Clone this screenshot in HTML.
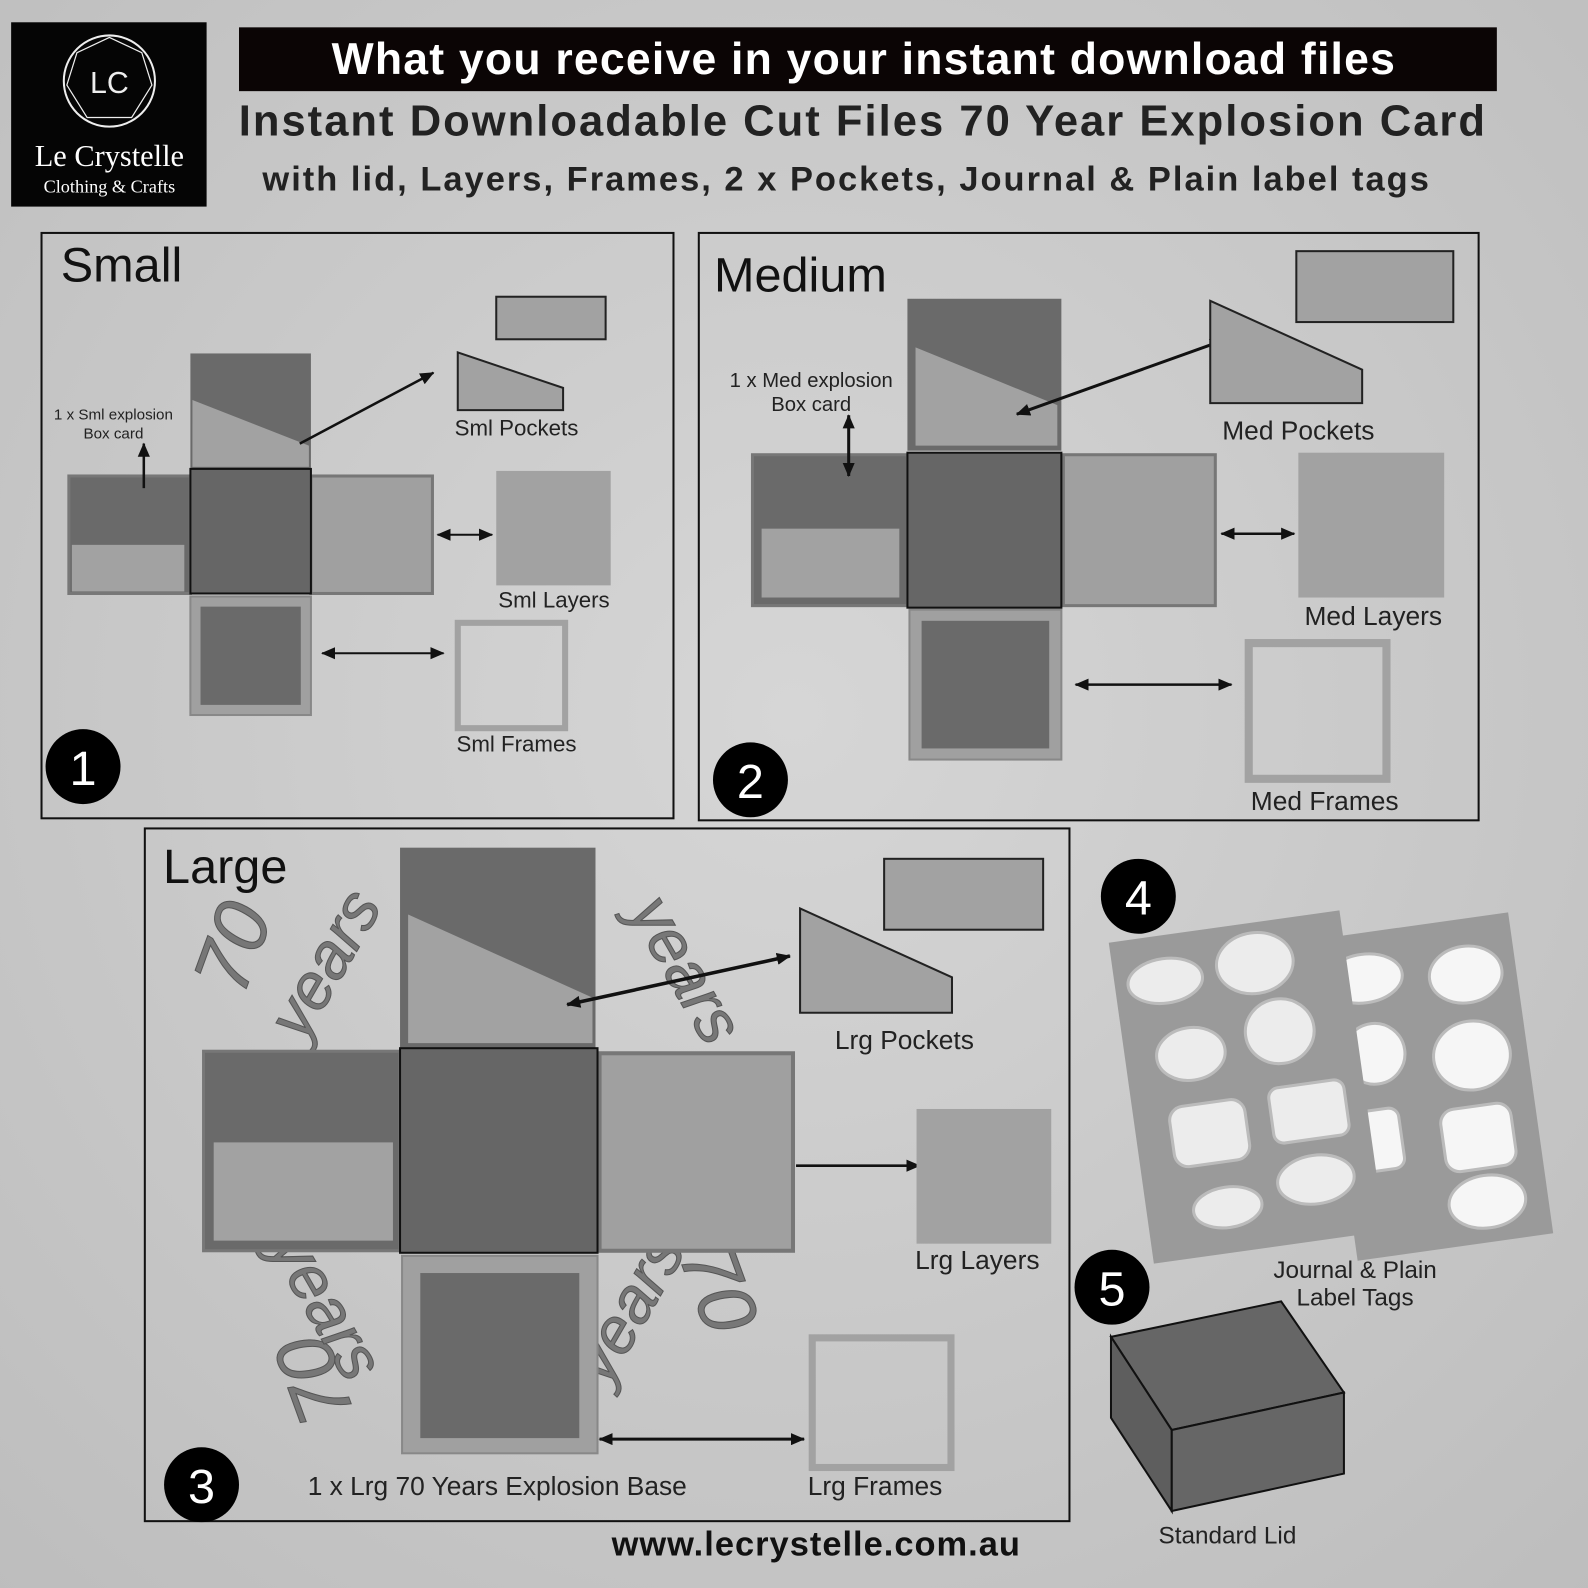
<!DOCTYPE html>
<html><head><meta charset="utf-8"><style>
html,body{margin:0;padding:0;background:#cdcdcd}
svg{display:block}
text{font-family:"Liberation Sans",sans-serif}
</style></head><body>
<svg width="1588" height="1588" viewBox="0 0 1568 1568" xmlns="http://www.w3.org/2000/svg">
<defs>
<radialGradient id="bg" cx="50%" cy="45%" r="75%"><stop offset="0" stop-color="#d6d6d6"/><stop offset="1" stop-color="#bdbdbd"/></radialGradient>
<marker id="ah" markerUnits="userSpaceOnUse" markerWidth="14" markerHeight="12" refX="13" refY="6" orient="auto"><path d="M0,0 L14,6 L0,12 z" fill="#111"/></marker>
<marker id="at" markerUnits="userSpaceOnUse" markerWidth="14" markerHeight="12" refX="1" refY="6" orient="auto"><path d="M14,0 L0,6 L14,12 z" fill="#111"/></marker>
</defs>
<rect width="1568" height="1568" fill="url(#bg)"/>

<!-- logo -->
<rect x="11" y="22" width="193" height="182" fill="#050505"/>
<circle cx="108" cy="80" r="45" fill="none" stroke="#eee" stroke-width="2"/>
<polygon points="108,37 140,52 150,84 130,116 86,116 66,84 76,52" fill="none" stroke="#eee" stroke-width="1.2"/>
<text x="108" y="92" text-anchor="middle" font-family="Liberation Serif" font-size="30" fill="#eee">LC</text>
<text x="108" y="164" text-anchor="middle" style="font-family:'Liberation Serif',serif" font-size="30" fill="#fff">Le Crystelle</text>
<text x="108" y="190" text-anchor="middle" style="font-family:'Liberation Serif',serif" font-size="18" fill="#fff">Clothing &amp; Crafts</text>

<!-- header -->
<rect x="236" y="27" width="1242" height="63" fill="#0b0505"/>
<text x="853" y="73" text-anchor="middle" font-size="44" font-weight="bold" fill="#fff" letter-spacing="1.2">What you receive in your instant download files</text>
<text x="852" y="134" text-anchor="middle" font-size="43" font-weight="bold" fill="#222" letter-spacing="2">Instant Downloadable Cut Files  70 Year Explosion Card</text>
<text x="836" y="188" text-anchor="middle" font-size="34" font-weight="bold" fill="#222" letter-spacing="2">with lid, Layers, Frames, 2 x Pockets, Journal &amp; Plain label tags</text>

<!-- SMALL -->
<rect x="41" y="230" width="624" height="578" fill="none" stroke="#111" stroke-width="2"/>
<text x="60" y="278" font-size="48" fill="#111">Small</text>
<rect x="188" y="349" width="119" height="114" fill="#6a6a6a"/>
<polygon points="190,395 305,440 305,461 190,461" fill="#a2a2a2"/>
<rect x="68" y="470" width="120" height="116" fill="#6a6a6a" stroke="#777" stroke-width="3"/>
<rect x="71" y="538" width="111" height="46" fill="#a2a2a2"/>
<rect x="307" y="470" width="120" height="116" fill="#a0a0a0" stroke="#777" stroke-width="3"/>
<rect x="188" y="589" width="119" height="117" fill="#a0a0a0" stroke="#888" stroke-width="2"/>
<rect x="198" y="599" width="99" height="97" fill="#6a6a6a"/>
<rect x="188" y="463" width="119" height="123" fill="#666" stroke="#111" stroke-width="2"/>
<text x="112" y="414" text-anchor="middle" font-size="15" fill="#222">1 x Sml explosion</text>
<text x="112" y="433" text-anchor="middle" font-size="15" fill="#222">Box card</text>
<line x1="142" y1="438" x2="142" y2="482" stroke="#111" stroke-width="2.5" marker-start="url(#at)"/>
<line x1="296" y1="438" x2="428" y2="368" stroke="#111" stroke-width="2.5" marker-end="url(#ah)"/>
<rect x="490" y="293" width="108" height="42" fill="#a2a2a2" stroke="#222" stroke-width="2"/>
<polygon points="452,348 452,405 556,405 556,383" fill="#a2a2a2" stroke="#222" stroke-width="2"/>
<text x="510" y="430" text-anchor="middle" font-size="22" fill="#222">Sml Pockets</text>
<line x1="432" y1="528" x2="486" y2="528" stroke="#111" stroke-width="2" marker-start="url(#at)" marker-end="url(#ah)"/>
<rect x="490" y="465" width="113" height="113" fill="#a2a2a2"/>
<text x="547" y="600" text-anchor="middle" font-size="22" fill="#222">Sml Layers</text>
<line x1="318" y1="645" x2="438" y2="645" stroke="#111" stroke-width="2" marker-start="url(#at)" marker-end="url(#ah)"/>
<rect x="452" y="615" width="106" height="104" fill="none" stroke="#a2a2a2" stroke-width="6"/>
<text x="510" y="742" text-anchor="middle" font-size="22" fill="#222">Sml Frames</text>
<circle cx="82" cy="757" r="37" fill="#000"/>
<text x="82" y="775" text-anchor="middle" font-size="48" fill="#fff">1</text>

<!-- MEDIUM -->
<rect x="690" y="230" width="770" height="580" fill="none" stroke="#111" stroke-width="2"/>
<text x="705" y="288" font-size="48" fill="#111">Medium</text>
<rect x="896" y="295" width="152" height="150" fill="#6a6a6a"/>
<polygon points="904,343 1044,400 1044,440 904,440" fill="#a2a2a2"/>
<rect x="743" y="449" width="153" height="149" fill="#6a6a6a" stroke="#777" stroke-width="3"/>
<rect x="752" y="522" width="136" height="68" fill="#a2a2a2"/>
<rect x="1050" y="449" width="150" height="149" fill="#a0a0a0" stroke="#777" stroke-width="3"/>
<rect x="898" y="602" width="150" height="148" fill="#a0a0a0" stroke="#888" stroke-width="2"/>
<rect x="910" y="613" width="126" height="126" fill="#6a6a6a"/>
<rect x="896" y="447" width="152" height="153" fill="#666" stroke="#111" stroke-width="2"/>
<text x="801" y="382" text-anchor="middle" font-size="20" fill="#222">1 x Med explosion</text>
<text x="801" y="406" text-anchor="middle" font-size="20" fill="#222">Box card</text>
<line x1="838" y1="410" x2="838" y2="470" stroke="#111" stroke-width="3" marker-start="url(#at)" marker-end="url(#ah)"/>
<line x1="1004" y1="409" x2="1208" y2="336" stroke="#111" stroke-width="3" marker-start="url(#at)" marker-end="url(#ah)"/>
<rect x="1280" y="248" width="155" height="70" fill="#a2a2a2" stroke="#222" stroke-width="2"/>
<polygon points="1195,297 1195,398 1345,398 1345,365" fill="#a2a2a2" stroke="#222" stroke-width="2"/>
<text x="1282" y="434" text-anchor="middle" font-size="26" fill="#222">Med Pockets</text>
<line x1="1206" y1="527" x2="1278" y2="527" stroke="#111" stroke-width="2.5" marker-start="url(#at)" marker-end="url(#ah)"/>
<rect x="1282" y="447" width="144" height="143" fill="#a2a2a2"/>
<text x="1356" y="617" text-anchor="middle" font-size="26" fill="#222">Med Layers</text>
<line x1="1062" y1="676" x2="1216" y2="676" stroke="#111" stroke-width="2.5" marker-start="url(#at)" marker-end="url(#ah)"/>
<rect x="1233" y="635" width="136" height="134" fill="none" stroke="#a2a2a2" stroke-width="8"/>
<text x="1308" y="800" text-anchor="middle" font-size="26" fill="#222">Med Frames</text>
<circle cx="741" cy="770" r="37" fill="#000"/>
<text x="741" y="788" text-anchor="middle" font-size="48" fill="#fff">2</text>

<!-- LARGE -->
<rect x="143" y="818" width="913" height="684" fill="none" stroke="#111" stroke-width="2"/>
<text x="161" y="872" font-size="48" fill="#111">Large</text>
<g fill="#777" stroke="#555" stroke-width="1" font-size="78" font-style="italic" font-family="Liberation Serif">
<text transform="translate(240,985) rotate(-70)">70</text>
<text transform="translate(300,1030) rotate(-60)" font-size="64">years</text>
<text transform="translate(720,1040) rotate(110)">70</text>
<text transform="translate(620,900) rotate(60)" font-size="64">years</text>
<text transform="translate(350,1395) rotate(-110)">70</text>
<text transform="translate(265,1232) rotate(60)" font-size="64">years</text>
<text transform="translate(670,1240) rotate(70)">70</text>
<text transform="translate(600,1370) rotate(-60)" font-size="64">years</text>
</g>
<rect x="395" y="837" width="193" height="198" fill="#6a6a6a"/>
<polygon points="403,903 585,985 585,1030 403,1030" fill="#a2a2a2"/>
<rect x="201" y="1038" width="194" height="197" fill="#6a6a6a" stroke="#777" stroke-width="3"/>
<rect x="211" y="1128" width="177" height="97" fill="#a2a2a2"/>
<rect x="592" y="1040" width="191" height="195" fill="#a0a0a0" stroke="#777" stroke-width="4"/>
<rect x="397" y="1240" width="193" height="195" fill="#a0a0a0" stroke="#888" stroke-width="2"/>
<rect x="415" y="1257" width="157" height="163" fill="#6a6a6a"/>
<rect x="395" y="1035" width="195" height="202" fill="#666" stroke="#111" stroke-width="2"/>
<line x1="560" y1="992" x2="780" y2="944" stroke="#111" stroke-width="3.5" marker-start="url(#at)" marker-end="url(#ah)"/>
<rect x="873" y="848" width="157" height="70" fill="#a2a2a2" stroke="#222" stroke-width="2"/>
<polygon points="790,897 790,1000 940,1000 940,965" fill="#a2a2a2" stroke="#222" stroke-width="2"/>
<text x="893" y="1036" text-anchor="middle" font-size="26" fill="#222">Lrg Pockets</text>
<line x1="786" y1="1151" x2="908" y2="1151" stroke="#111" stroke-width="2.5" marker-end="url(#ah)"/>
<rect x="905" y="1095" width="133" height="133" fill="#a2a2a2"/>
<text x="965" y="1253" text-anchor="middle" font-size="26" fill="#222">Lrg Layers</text>
<line x1="592" y1="1421" x2="794" y2="1421" stroke="#111" stroke-width="3" marker-start="url(#at)" marker-end="url(#ah)"/>
<rect x="802" y="1321" width="137" height="128" fill="none" stroke="#a2a2a2" stroke-width="7"/>
<text x="491" y="1476" text-anchor="middle" font-size="26" fill="#222">1 x Lrg 70 Years Explosion Base</text>
<text x="864" y="1476" text-anchor="middle" font-size="26" fill="#222">Lrg Frames</text>
<circle cx="199" cy="1466" r="37" fill="#000"/>
<text x="199" y="1484" text-anchor="middle" font-size="48" fill="#fff">3</text>

<!-- 4 tags -->
<circle cx="1124" cy="885" r="37" fill="#000"/>
<text x="1124" y="903" text-anchor="middle" font-size="48" fill="#fff">4</text>
<g transform="translate(-14,-6)">
<g transform="rotate(-8 1420 1070)">
<rect x="1330" y="920" width="195" height="320" fill="#9a9a9a"/>
<g fill="#f6f6f6" stroke="#bbb" stroke-width="3">
<ellipse cx="1375" cy="965" rx="38" ry="24"/><ellipse cx="1475" cy="975" rx="36" ry="28"/>
<ellipse cx="1375" cy="1040" rx="30" ry="30"/><ellipse cx="1470" cy="1055" rx="38" ry="34"/>
<rect x="1345" y="1095" width="45" height="60" rx="10"/><rect x="1430" y="1105" width="70" height="62" rx="14"/>
<ellipse cx="1465" cy="1200" rx="38" ry="26"/>
</g></g>
<g transform="rotate(-8 1240 1080)">
<rect x="1130" y="920" width="230" height="320" fill="#9a9a9a"/>
<g fill="#ececec" stroke="#bbb" stroke-width="3">
<ellipse cx="1180" cy="965" rx="37" ry="22"/><ellipse cx="1270" cy="960" rx="38" ry="30"/>
<ellipse cx="1195" cy="1040" rx="34" ry="26"/><ellipse cx="1285" cy="1030" rx="34" ry="32"/>
<rect x="1165" y="1090" width="75" height="60" rx="14"/><rect x="1265" y="1085" width="75" height="55" rx="10"/>
<ellipse cx="1210" cy="1195" rx="34" ry="20"/><ellipse cx="1300" cy="1180" rx="38" ry="24"/>
</g></g>
</g>
<text x="1338" y="1262" text-anchor="middle" font-size="24" fill="#222">Journal &amp; Plain</text>
<text x="1338" y="1289" text-anchor="middle" font-size="24" fill="#222">Label Tags</text>

<!-- 5 lid -->
<circle cx="1098" cy="1271" r="37" fill="#000"/>
<text x="1098" y="1289" text-anchor="middle" font-size="48" fill="#fff">5</text>
<polygon points="1097,1320 1265,1285 1327,1375 1157,1412" fill="#666" stroke="#111" stroke-width="2"/>
<polygon points="1097,1320 1157,1412 1157,1492 1097,1400" fill="#5e5e5e" stroke="#111" stroke-width="2"/>
<polygon points="1157,1412 1327,1375 1327,1455 1157,1492" fill="#666" stroke="#111" stroke-width="2"/>
<text x="1212" y="1524" text-anchor="middle" font-size="24" fill="#222">Standard Lid</text>

<text x="806" y="1536" text-anchor="middle" font-size="34" font-weight="bold" fill="#111" letter-spacing="1">www.lecrystelle.com.au</text>
</svg>
</body></html>
